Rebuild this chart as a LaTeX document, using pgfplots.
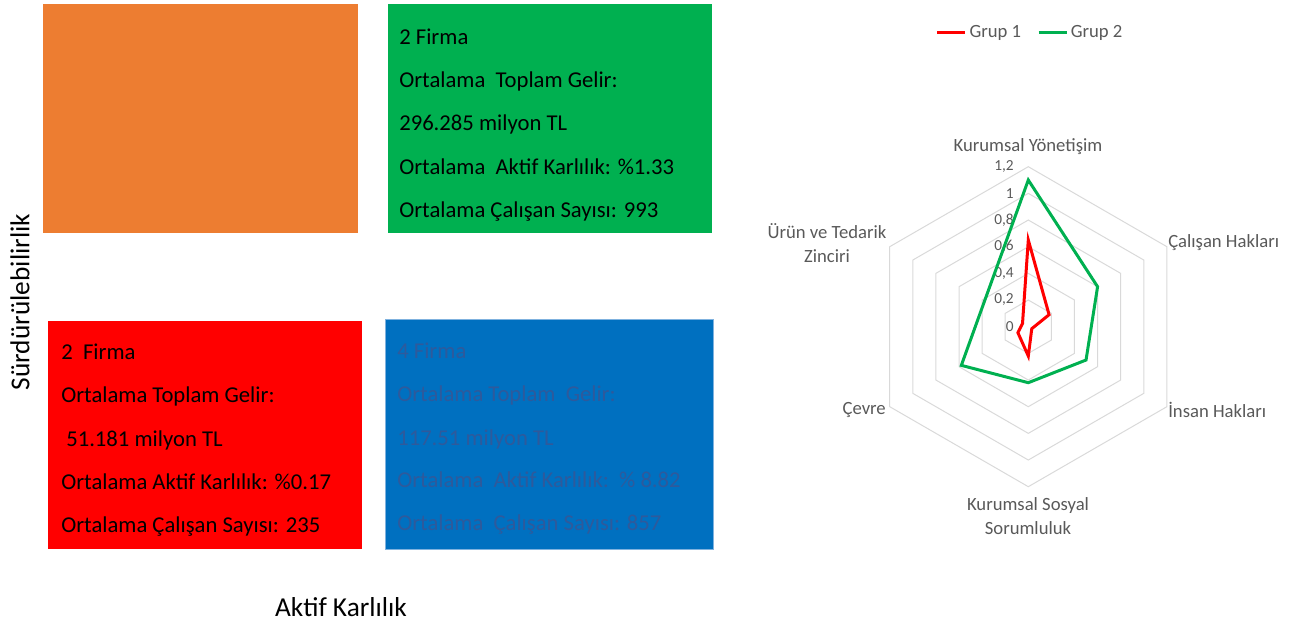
\documentclass[border=0pt]{standalone}
\usepackage{fontspec}
\setmainfont{Carlito}
\usepackage{pgfplots}
\pgfplotsset{compat=1.18}
\usepgfplotslibrary{polar}
\definecolor{boxorange}{HTML}{ED7D31}
\definecolor{boxgreen}{HTML}{00B050}
\definecolor{boxred}{HTML}{FF0000}
\definecolor{boxblue}{HTML}{0070C0}
\definecolor{boxblueedge}{HTML}{7FB2DF}
\definecolor{bluetext}{HTML}{2E5A9C}
\definecolor{labelgray}{HTML}{595959}
\definecolor{ringgray}{HTML}{D9D9D9}
\definecolor{grupred}{HTML}{FF0000}
\definecolor{grupgreen}{HTML}{00B050}

\newcommand\boxfont{\fontsize{17}{20}\selectfont}
\newcommand\radarfont{\fontsize{14}{18}\selectfont}

\begin{document}
\begin{tikzpicture}
% frame in pixel units of the reference (y counted downwards)
\begin{axis}[
  width=972.75pt, height=471pt, scale only axis,
  xmin=0, xmax=1297, ymin=0, ymax=628, y dir=reverse,
  hide axis, clip=false,
  legend style={at={(0.7945,0.949)}, anchor=center, draw=none, fill=none,
    text=labelgray, font=\radarfont, legend columns=2,
    /tikz/every even column/.append style={column sep=10pt}},
  legend image code/.code={\draw[#1] (0pt,0pt) -- (21pt,0pt);},
]
\addplot[draw=none, forget plot] coordinates {(0,0) (1297,628)};

% quadrant boxes
\addplot[fill=boxorange, draw=none, forget plot] coordinates {(43,4) (358,4) (358,233) (43,233)};
\addplot[fill=boxgreen, draw=none, forget plot] coordinates {(388,4) (712,4) (712,233) (388,233)};
\addplot[fill=boxred, draw=none, forget plot] coordinates {(48,321) (362,321) (362,549) (48,549)};
\addplot[fill=boxblue, draw=boxblueedge, line width=0.75pt, forget plot] coordinates {(385,319) (713,319) (713,549) (385,549) (385,319)};

% green box text
\begin{scope}[every node/.style={anchor=base west, font=\boxfont, inner sep=0pt}]
\node at (axis cs:399,44.5) {2 Firma};
\node at (axis cs:399,87.5) {Ortalama\ \ Toplam Gelir:};
\node at (axis cs:399,130.5) {296.285 milyon TL};
\node at (axis cs:399,174) {Ortalama\ \ Aktif Karlılık: \%1.33};
\node at (axis cs:399,217) {Ortalama Çalışan Sayısı: 993};
% red box text
\node at (axis cs:61,359) {2\ \ Firma};
\node at (axis cs:61,402.5) {Ortalama Toplam Gelir:};
\node at (axis cs:66,446) {51.181 milyon TL};
\node at (axis cs:61,489) {Ortalama Aktif Karlılık: \%0.17};
\node at (axis cs:61,532) {Ortalama Çalışan Sayısı: 235};
% blue box text
\node[text=bluetext] at (axis cs:397,358) {4 Firma};
\node[text=bluetext] at (axis cs:397,401.5) {Ortalama Toplam\ \ Gelir:};
\node[text=bluetext] at (axis cs:397,445) {117.51 milyon TL};
\node[text=bluetext] at (axis cs:397,487.5) {Ortalama\ \ Aktif Karlılık:\ \ \% 8.82};
\node[text=bluetext] at (axis cs:397,530.5) {Ortalama\ \ Çalışan Sayısı: 857};
\end{scope}

% quadrant axis titles
\node[font=\fontsize{20.5}{24}\selectfont, rotate=90] at (axis cs:20,302) {Sürdürülebilirlik};
\node[font=\fontsize{20.5}{24}\selectfont] at (axis cs:341,607) {Aktif Karlılık};

% radar category labels
\begin{scope}[every node/.style={font=\radarfont, text=labelgray, align=center, inner sep=0pt}]
\node at (axis cs:1028,147) {Kurumsal Yönetişim};
\node[anchor=west] at (axis cs:1168,243) {Çalışan Hakları};
\node[anchor=west] at (axis cs:1168,410) {İnsan Hakları};
\node at (axis cs:1028,516) {Kurumsal Sosyal\\Sorumluluk};
\node[anchor=east] at (axis cs:886,410) {Çevre};
\node at (axis cs:827,243) {Ürün ve Tedarik\\Zinciri};
\end{scope}

% radar value labels
\begin{scope}[every node/.style={font=\fontsize{11.5}{13}\selectfont, text=labelgray, anchor=east, inner sep=0pt}]
\node at (axis cs:1014,326.7) {0};
\node at (axis cs:1014,300.0) {0,2};
\node at (axis cs:1014,273.4) {0,4};
\node at (axis cs:1014,246.7) {0,6};
\node at (axis cs:1014,220.0) {0,8};
\node at (axis cs:1014,193.4) {1};
\node at (axis cs:1014,166.7) {1,2};
\end{scope}

\addlegendimage{grupred, line width=2.25pt}
\addlegendentry{Grup 1}
\addlegendimage{grupgreen, line width=2.25pt}
\addlegendentry{Grup 2}

\coordinate (rc) at (axis cs:1028.3,326.7);
\end{axis}

% radar chart
\begin{polaraxis}[
  at={(rc)}, anchor=center,
  width=240pt, height=240pt, scale only axis,
  xmin=0, xmax=360, ymin=0, ymax=1.2,
  hide axis, clip=false,
]
\pgfplotsinvokeforeach{0.2,0.4,0.6,0.8,1.0,1.2}{
  \addplot[ringgray, line width=0.75pt] coordinates {(90,#1) (30,#1) (330,#1) (270,#1) (210,#1) (150,#1)} -- cycle;
}
% order: Kurumsal Yönetişim, Çalışan Hakları, İnsan Hakları, Kurumsal Sosyal Sorumluluk, Çevre, Ürün ve Tedarik Zinciri
\addplot[grupred, line width=2.25pt] coordinates {(90,0.65) (30,0.18) (330,0.03) (270,0.22) (210,0.09) (150,0.05)} -- cycle;
\addplot[grupgreen, line width=2.25pt] coordinates {(90,1.10) (30,0.60) (330,0.50) (270,0.42) (210,0.58) (150,0.38)} -- cycle;
\end{polaraxis}
\end{tikzpicture}
\end{document}
